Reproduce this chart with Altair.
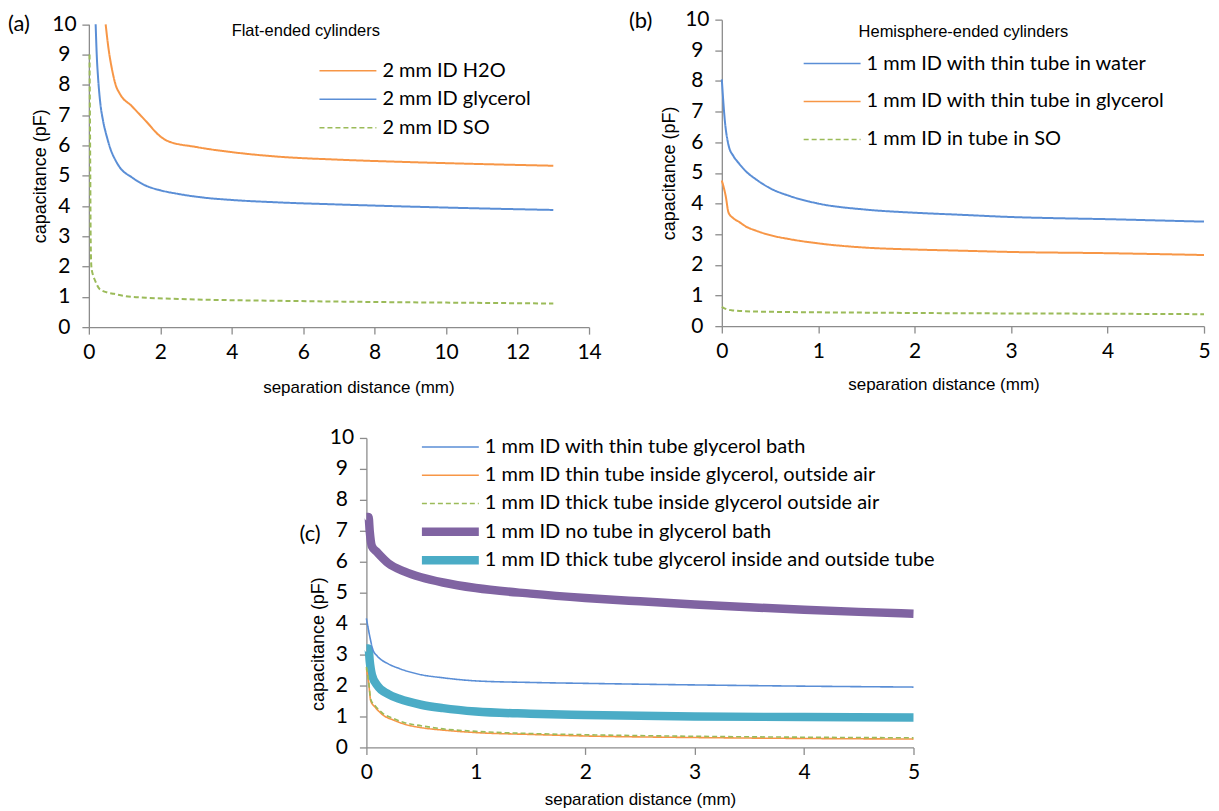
import altair as alt
import pandas as pd

# ---------------- data ----------------
# Panel (a): flat-ended cylinders
A_SERIES = ["2 mm ID H2O", "2 mm ID glycerol", "2 mm ID SO"]
A_H2O_X = [0.47, 0.55, 0.65, 0.75, 0.87, 1.2, 1.6, 2.0, 2.2, 3.0, 4.0, 5.3, 7.0, 8.7, 10.5, 13.0]
A_H2O_Y = [10.0, 9.2, 8.5, 8.0, 7.7, 7.3, 6.8, 6.3, 6.15, 5.95, 5.78, 5.63, 5.53, 5.46, 5.40, 5.33]
A_GLY_X = [0.19, 0.22, 0.26, 0.32, 0.4, 0.5, 0.6, 0.75, 0.87, 1.2, 1.6, 2.0, 2.5, 3.2, 4.0, 5.3, 7.0, 8.7, 11.0, 13.0]
A_GLY_Y = [10.0, 9.0, 8.2, 7.4, 6.8, 6.3, 5.9, 5.5, 5.27, 4.95, 4.67, 4.52, 4.4, 4.28, 4.2, 4.12, 4.05, 3.99, 3.92, 3.87]
A_SO_X = [0.02, 0.03, 0.04, 0.05, 0.07, 0.12, 0.17, 0.3, 0.5, 0.7, 1.0, 1.6, 2.5, 3.5, 5.3, 8.0, 10.0, 13.0]
A_SO_Y = [9.0, 7.0, 5.0, 3.0, 2.0, 1.7, 1.55, 1.26, 1.15, 1.1, 1.03, 0.97, 0.93, 0.9, 0.87, 0.83, 0.81, 0.78]

# Panel (b): hemisphere-ended cylinders
B_SERIES = ["1 mm ID with thin tube in water", "1 mm ID with thin tube in glycerol", "1 mm ID in tube in SO"]
B_WAT_X = [0, 0.03, 0.07, 0.12, 0.18, 0.25, 0.35, 0.5, 0.7, 1.0, 1.5, 2.0, 2.5, 3.0, 3.5, 4.0, 4.5, 5.0]
B_WAT_Y = [8.05, 6.75, 5.9, 5.55, 5.3, 5.05, 4.8, 4.5, 4.25, 4.0, 3.8, 3.7, 3.63, 3.56, 3.52, 3.49, 3.45, 3.41]
B_GLY_X = [0, 0.04, 0.07, 0.12, 0.18, 0.25, 0.35, 0.5, 0.7, 1.0, 1.5, 2.0, 2.5, 3.0, 4.0, 5.0]
B_GLY_Y = [4.75, 4.25, 3.7, 3.52, 3.4, 3.25, 3.12, 2.97, 2.84, 2.7, 2.56, 2.5, 2.46, 2.42, 2.38, 2.32]
B_SO_X = [0, 0.05, 0.1, 0.3, 0.7, 1.5, 2.5, 3.5, 5.0]
B_SO_Y = [0.63, 0.55, 0.52, 0.48, 0.46, 0.44, 0.42, 0.41, 0.39]

# Panel (c): thin-line series and thick-line series
C_THIN_SERIES = [
    "1 mm ID with thin tube glycerol bath",
    "1 mm ID thin tube inside glycerol, outside air",
    "1 mm ID thick tube inside glycerol outside air",
]
C_WIDE_SERIES = [
    "1 mm ID no tube in glycerol bath",
    "1 mm ID thick tube glycerol inside and outside tube",
]
C_BATH_X = [0, 0.03, 0.06, 0.1, 0.2, 0.3, 0.5, 0.7, 1.0, 1.5, 2.0, 3.0, 4.0, 5.0]
C_BATH_Y = [4.17, 3.6, 3.15, 2.95, 2.7, 2.55, 2.35, 2.25, 2.15, 2.1, 2.07, 2.02, 1.98, 1.95]
C_THIN_X = [0, 0.02, 0.04, 0.08, 0.15, 0.25, 0.35, 0.5, 0.7, 1.0, 1.5, 2.0, 3.0, 4.0, 5.0]
C_THIN_Y = [2.55, 2.1, 1.5, 1.3, 1.05, 0.88, 0.75, 0.64, 0.56, 0.48, 0.42, 0.37, 0.32, 0.29, 0.27]
C_THICK_X = [0, 0.02, 0.04, 0.08, 0.15, 0.25, 0.35, 0.5, 0.7, 1.0, 1.5, 2.0, 3.0, 4.0, 5.0]
C_THICK_Y = [2.6, 2.15, 1.55, 1.35, 1.1, 0.93, 0.8, 0.7, 0.6, 0.52, 0.45, 0.41, 0.36, 0.33, 0.31]
C_NOTUBE_X = [0, 0.02, 0.03, 0.05, 0.1, 0.2, 0.35, 0.5, 0.7, 1.0, 1.5, 2.0, 2.5, 3.0, 3.5, 4.0, 4.5, 5.0]
C_NOTUBE_Y = [7.45, 7.45, 7.0, 6.5, 6.3, 5.95, 5.68, 5.5, 5.33, 5.15, 4.97, 4.83, 4.72, 4.62, 4.53, 4.45, 4.38, 4.32]
C_INOUT_X = [0, 0.02, 0.03, 0.05, 0.1, 0.2, 0.3, 0.5, 0.7, 1.0, 1.5, 2.0, 3.0, 4.0, 5.0]
C_INOUT_Y = [3.2, 3.2, 2.8, 2.35, 2.0, 1.72, 1.57, 1.38, 1.27, 1.16, 1.09, 1.05, 1.0, 0.98, 0.97]

X_TICKS_A = [0, 2, 4, 6, 8, 10, 12, 14]
X_TICKS_B = [0, 1, 2, 3, 4, 5]
Y_TICKS = [0, 1, 2, 3, 4, 5, 6, 7, 8, 9, 10]

BLUE, ORANGE, GREEN = "#5A8ED6", "#F79646", "#9BBB59"
PURPLE, TEAL = "#8064A2", "#4BACC6"
AXIS_GRAY = "#8C8C8C"
NUM_FONT = "Lato"
TXT_FONT = "Liberation Sans"
SOLID, DASH = [1, 0], [5, 3]
THIN_W, WIDE_W = 1.6, 8.5


def frame(items):
    rows = []
    for name, xs, ys in items:
        for i, (x, y) in enumerate(zip(xs, ys)):
            rows.append({"series": name, "x": x, "y": y, "i": i})
    return pd.DataFrame(rows)


def x_axis(values, tx, ty):
    return alt.Axis(values=values, title="separation distance (mm)", grid=False,
                    domainColor=AXIS_GRAY, domainWidth=1.3, tickColor=AXIS_GRAY,
                    tickWidth=1.3, tickSize=7, labelFont=NUM_FONT, labelFontSize=21,
                    labelColor="#000", labelPadding=7.5, labelOverlap=False, labelFlush=False,
                    titleFont=TXT_FONT, titleFontSize=17, titleFontWeight="normal",
                    titleColor="#000", titleX=tx, titleY=ty, titleAlign="center",
                    titleBaseline="middle")


def y_axis(tx, ty, offset=0):
    return alt.Axis(values=Y_TICKS, title="capacitance (pF)", grid=False,
                    domainColor=AXIS_GRAY, domainWidth=1.3, tickColor=AXIS_GRAY,
                    tickWidth=1.3, tickSize=7, labelFont=NUM_FONT, labelFontSize=21,
                    labelColor="#000", labelPadding=18, labelAlign="center",
                    labelOverlap=False, labelFlush=False, offset=offset,
                    titleFont=TXT_FONT, titleFontSize=18, titleFontWeight="normal",
                    titleColor="#000", titleX=tx, titleY=ty, titleAngle=270,
                    titleAlign="center", titleBaseline="middle")


# legend symbol: a 57 px horizontal stroke drawn from a small-size custom path
SYM_PATH, SYM_SIZE = "M-5,0H5", 130
ENTRY = 20  # legend entry size (label font size)


def legend(line_start, first_row_center, row_step, sw=None, extra=0.0):
    kw = {}
    if sw is not None:
        kw["symbolStrokeWidth"] = sw
    return alt.Legend(title=None, orient="none", legendX=line_start + 28.5 - ENTRY / 2,
                      legendY=first_row_center - ENTRY / 2,
                      symbolType=SYM_PATH, symbolSize=SYM_SIZE, labelFont=NUM_FONT,
                      labelFontSize=ENTRY, labelColor="#000", labelOffset=24.5,
                      labelLimit=0, rowPadding=row_step - ENTRY - extra, padding=0, **kw)


def text_layer(txt, x, y, font, size):
    return alt.Chart(pd.DataFrame({"t": [txt]})).mark_text(
        font=font, fontSize=size, align="left", baseline="middle", color="#000"
    ).encode(text="t:N", x=alt.value(x), y=alt.value(y))


def xy(xmax, xticks, xrange, yrange, xt, yt, yoff=0):
    return dict(
        x=alt.X("x:Q", scale=alt.Scale(domain=[0, xmax], nice=False, range=xrange),
                axis=x_axis(xticks, xt[0], xt[1])),
        y=alt.Y("y:Q", scale=alt.Scale(domain=[0, 10], nice=False, range=yrange),
                axis=y_axis(yt[0], yt[1], yoff)),
    )


def top_panel(df, names, colors, dashes, xmax, xticks, w, h, yrange, leg, xt, yt,
              letter, title, title_pos):
    lines = alt.Chart(df).mark_line(interpolate="monotone", strokeWidth=2).encode(
        **xy(xmax, xticks, [0, w], yrange, xt, yt),
        color=alt.Color("series:N", scale=alt.Scale(domain=names, range=colors), legend=leg),
        strokeDash=alt.StrokeDash("series:N", scale=alt.Scale(domain=names, range=dashes), legend=leg),
        order="i:Q",
    )
    return alt.layer(
        lines,
        text_layer(letter[0], letter[1], letter[2], NUM_FONT, 22),
        text_layer(title, title_pos[0], title_pos[1], TXT_FONT, 16.5),
    ).properties(width=w, height=h)


df_a = frame([(A_SERIES[0], A_H2O_X, A_H2O_Y), (A_SERIES[1], A_GLY_X, A_GLY_Y), (A_SERIES[2], A_SO_X, A_SO_Y)])
df_b = frame([(B_SERIES[0], B_WAT_X, B_WAT_Y), (B_SERIES[1], B_GLY_X, B_GLY_Y), (B_SERIES[2], B_SO_X, B_SO_Y)])
df_c_thin = frame([(C_THIN_SERIES[0], C_BATH_X, C_BATH_Y), (C_THIN_SERIES[1], C_THIN_X, C_THIN_Y),
                   (C_THIN_SERIES[2], C_THICK_X, C_THICK_Y)])
df_c_wide = frame([(C_WIDE_SERIES[0], C_NOTUBE_X, C_NOTUBE_Y), (C_WIDE_SERIES[1], C_INOUT_X, C_INOUT_Y)])

# plot areas (page px): a 89..590 x 21.7..325 ; b 723..1206 x 17..324 ; c 367..915 x 436..746
WA, HA = 501, 308
WB, HB = 483, 307
WC, HC = 548, 310
A_TOP = 4.7    # panel (a) value 10 sits a little lower than panel (b)'s
C_LEFT = 278   # panel (c) plot starts this far right of panel (a)'s

panel_a = top_panel(df_a, A_SERIES, [ORANGE, BLUE, GREEN], [SOLID, SOLID, DASH],
                    14, X_TICKS_A, WA, HA, [HA, A_TOP], legend(231, 46.5 + A_TOP, 28.5),
                    (270, 60), (-48, A_TOP + (HA - A_TOP) / 2),
                    ("(a)", -81, 4), "Flat-ended  cylinders", (143, 7 + A_TOP))
panel_b = top_panel(df_b, B_SERIES, [BLUE, ORANGE, GREEN], [SOLID, SOLID, DASH],
                    5, X_TICKS_B, WB, HB, [HB, 0], legend(82, 44, 38), (222, 58), (-52, HB / 2),
                    ("(b)", -93, 1), "Hemisphere-ended  cylinders", (137, 12))

c_axes = xy(5, X_TICKS_B, [C_LEFT, C_LEFT + WC], [HC, 0], (C_LEFT + WC / 2, 52), (-48, 206),
            yoff=-C_LEFT)
c_wide = alt.Chart(df_c_wide).mark_line(interpolate="monotone", strokeWidth=WIDE_W).encode(
    **c_axes,
    color=alt.Color("series:N", scale=alt.Scale(domain=C_WIDE_SERIES, range=[PURPLE, TEAL]),
                    legend=legend(C_LEFT + 55.6, 9 + 3 * 28.3, 28.3, sw=WIDE_W, extra=13.7)),
    order="i:Q",
)
thin_leg = legend(C_LEFT + 55.6, 9, 28.3, sw=THIN_W)
c_thin = alt.Chart(df_c_thin).mark_line(interpolate="monotone", strokeWidth=THIN_W).encode(
    **c_axes,
    color=alt.Color("series:N", scale=alt.Scale(domain=C_THIN_SERIES, range=[BLUE, ORANGE, GREEN]),
                    legend=thin_leg),
    strokeDash=alt.StrokeDash("series:N", scale=alt.Scale(domain=C_THIN_SERIES,
                                                          range=[SOLID, SOLID, DASH]), legend=thin_leg),
    order="i:Q",
)
panel_c = alt.layer(
    c_wide, c_thin, text_layer("(c)", C_LEFT - 67, 96.5, NUM_FONT, 22)
).resolve_scale(color="independent", strokeDash="independent"
).resolve_legend(color="independent", strokeDash="independent"
).properties(width=WA, height=HC)

chart = alt.concat(panel_a, panel_b, panel_c, columns=2,
                   spacing={"row": 111, "column": 133}, bounds="flush"
                   ).resolve_scale(x="independent", y="independent", color="independent",
                                   strokeDash="independent"
                   ).resolve_legend(color="independent", strokeDash="independent"
                   ).configure_view(stroke=None).properties(padding=0, background="white")

chart.save("out.html", embed_options={"renderer": "svg", "actions": False})
